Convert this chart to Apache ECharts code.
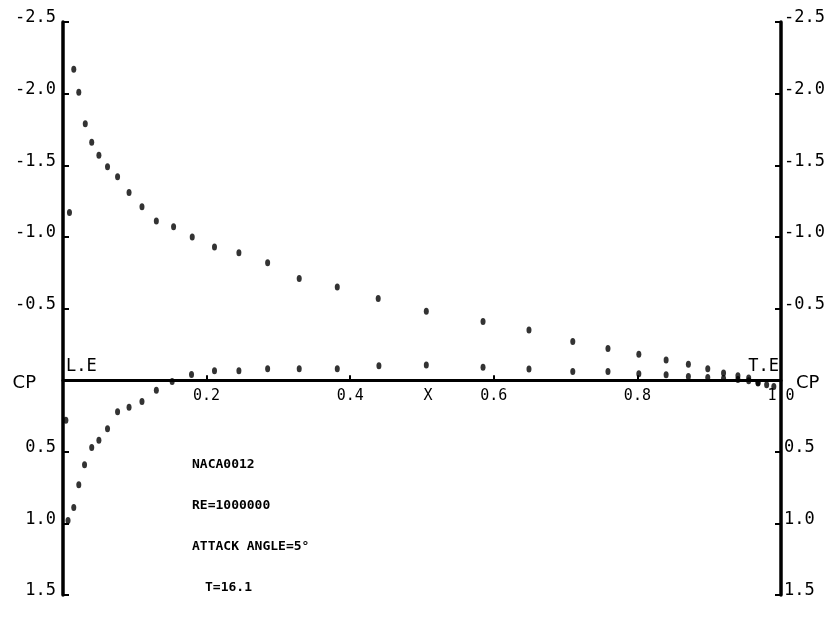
<!DOCTYPE html>
<html>
<head>
<meta charset="utf-8">
<script src="https://cdn.jsdelivr.net/npm/echarts@6/dist/echarts.min.js"></script>
<style>html,body{margin:0;padding:0;background:#fff;}#c{width:834px;height:628px;}</style>
</head>
<body>
<div id="c"></div>
<script>
// Upper surface (suction side)
const xUpper = [0.009, 0.015, 0.022, 0.031, 0.040, 0.050, 0.062, 0.076, 0.092, 0.110, 0.130, 0.154, 0.180, 0.211, 0.245, 0.285, 0.329, 0.382, 0.439, 0.506, 0.585, 0.649, 0.710, 0.759, 0.802, 0.840, 0.871, 0.898, 0.920, 0.940, 0.955, 0.968, 0.980, 0.990];
const cpUpper = [-1.17, -2.17, -2.01, -1.79, -1.66, -1.57, -1.49, -1.42, -1.31, -1.21, -1.11, -1.07, -1.00, -0.93, -0.89, -0.82, -0.71, -0.65, -0.57, -0.48, -0.41, -0.35, -0.27, -0.22, -0.18, -0.14, -0.11, -0.08, -0.05, -0.03, -0.014, 0.016, 0.033, 0.044];
// Lower surface (pressure side)
const xLower = [0.004, 0.007, 0.015, 0.022, 0.030, 0.040, 0.050, 0.062, 0.076, 0.092, 0.110, 0.130, 0.152, 0.179, 0.211, 0.245, 0.285, 0.329, 0.382, 0.440, 0.506, 0.585, 0.649, 0.710, 0.759, 0.802, 0.840, 0.871, 0.898, 0.920, 0.940, 0.955, 0.968];
const cpLower = [0.28, 0.98, 0.89, 0.73, 0.59, 0.47, 0.42, 0.34, 0.22, 0.19, 0.15, 0.07, 0.01, -0.04, -0.065, -0.065, -0.08, -0.08, -0.08, -0.10, -0.105, -0.09, -0.077, -0.06, -0.06, -0.044, -0.037, -0.026, -0.019, -0.012, -0.005, 0.005, 0.02];

const xTickLabels = ['0.2', '0.4', '0.6', '0.8', '1.0'];
const xAxisName = 'X';
const yAxisName = 'CP';
const annotations = ['NACA0012', 'RE=1000000', 'ATTACK ANGLE=5°', 'T=16.1'];
const edgeLabels = ['L.E', 'T.E'];

const FONT = 'DejaVu Sans Mono';
const YMIN = -2.5, YMAX = 1.5;
const chart = echarts.init(document.getElementById('c'));

function pairs(xs, ys) { return xs.map((x, i) => [x, ys[i]]); }
function yFmt(v) {
  if (Math.abs(v) < 1e-9) return '{cp|' + yAxisName + '}';
  return v.toFixed(1);
}

const yBase = {
  type: 'value', min: YMIN, max: YMAX, interval: 0.5, inverse: true, gridIndex: 0,
  splitLine: { show: false },
  axisLine: { show: true, onZero: false, lineStyle: { color: '#000', width: 3.5 } },
  axisTick: { show: true, inside: true, length: 6, lineStyle: { color: '#000', width: 2 } }
};

// grid 0: full plot area (data). grid 1: same width, bottom edge at CP = 0 (carries the visible X axis)
const gridTop = 22, gridBottom = 33, plotH = 628 - gridTop - gridBottom;
const zeroFromTop = plotH * (0 - YMIN) / (YMAX - YMIN);

chart.setOption({
  animation: false,
  backgroundColor: '#fff',
  grid: [
    { left: 63, right: 53, top: gridTop, bottom: gridBottom, containLabel: false },
    { left: 63, right: 53, top: gridTop, height: zeroFromTop, containLabel: false }
  ],
  xAxis: [
    { type: 'value', min: 0, max: 1, gridIndex: 0, show: false },
    {
      type: 'value', min: 0, max: 1, interval: 0.2, gridIndex: 1, position: 'bottom',
      splitLine: { show: false },
      axisLine: { show: true, onZero: false, lineStyle: { color: '#000', width: 3 } },
      axisTick: { show: true, inside: true, length: 5, lineStyle: { color: '#000', width: 2 } },
      axisLabel: {
        color: '#000', fontFamily: FONT, fontSize: 15, margin: 8, hideOverlap: false,
        formatter: v => { const i = Math.round(v / 0.2) - 1; return i >= 0 ? xTickLabels[i] : ''; }
      }
    },
    {
      type: 'value', min: 0, max: 1, interval: 0.5, gridIndex: 1, position: 'bottom',
      splitLine: { show: false },
      axisLine: { show: false, onZero: false },
      axisTick: { show: false },
      axisLabel: {
        color: '#000', fontFamily: FONT, fontSize: 15, margin: 8, padding: [0, 0, 0, 12],
        formatter: v => Math.abs(v - 0.5) < 1e-9 ? xAxisName : ''
      }
    }
  ],
  yAxis: [
    Object.assign({}, yBase, {
      position: 'left',
      axisLabel: {
        color: '#000', fontFamily: FONT, fontSize: 17, margin: 7,
        verticalAlign: 'middle', padding: [0, 0, 8, 0],
        formatter: yFmt,
        rich: { cp: { fontFamily: 'DejaVu Sans', fontSize: 18, color: '#000', padding: [14, 20, 0, 0] } }
      }
    }),
    Object.assign({}, yBase, {
      position: 'right',
      axisLabel: {
        color: '#000', fontFamily: FONT, fontSize: 17, margin: 3,
        verticalAlign: 'middle', padding: [0, 0, 8, 0],
        formatter: yFmt,
        rich: { cp: { fontFamily: 'DejaVu Sans', fontSize: 18, color: '#000', padding: [14, 0, 0, 12] } }
      }
    }),
    { type: 'value', gridIndex: 1, min: 0, max: 1, show: false }
  ],
  series: [
    { type: 'scatter', name: 'upper', xAxisIndex: 0, yAxisIndex: 0, data: pairs(xUpper, cpUpper),
      symbol: 'circle', symbolSize: [5, 7], itemStyle: { color: '#000' } },
    { type: 'scatter', name: 'lower', xAxisIndex: 0, yAxisIndex: 0, data: pairs(xLower, cpLower),
      symbol: 'circle', symbolSize: [5, 7], itemStyle: { color: '#000' } }
  ]
});

// Place edge labels via the library's scales
const pLE = chart.convertToPixel({ xAxisIndex: 0, yAxisIndex: 0 }, [0, 0]);
const pTE = chart.convertToPixel({ xAxisIndex: 0, yAxisIndex: 0 }, [1, 0]);
const txt = { fill: '#000', font: '17px "DejaVu Sans Mono"' };
const annStyle = { fill: '#000', font: 'bold 13px "DejaVu Sans Mono"' };
chart.setOption({
  graphic: [
    { type: 'text', x: pLE[0] + 3, y: pLE[1] - 22, style: Object.assign({ text: edgeLabels[0] }, txt) },
    { type: 'text', x: pTE[0] - 2, y: pTE[1] - 22, style: Object.assign({ text: edgeLabels[1], textAlign: 'right' }, txt) },
    { type: 'text', left: 192, top: 458, style: Object.assign({ text: annotations[0] }, annStyle) },
    { type: 'text', left: 192, top: 499, style: Object.assign({ text: annotations[1] }, annStyle) },
    { type: 'text', left: 192, top: 540, style: Object.assign({ text: annotations[2] }, annStyle) },
    { type: 'text', left: 205, top: 581, style: Object.assign({ text: annotations[3] }, annStyle) }
  ]
});
</script>
</body>
</html>
